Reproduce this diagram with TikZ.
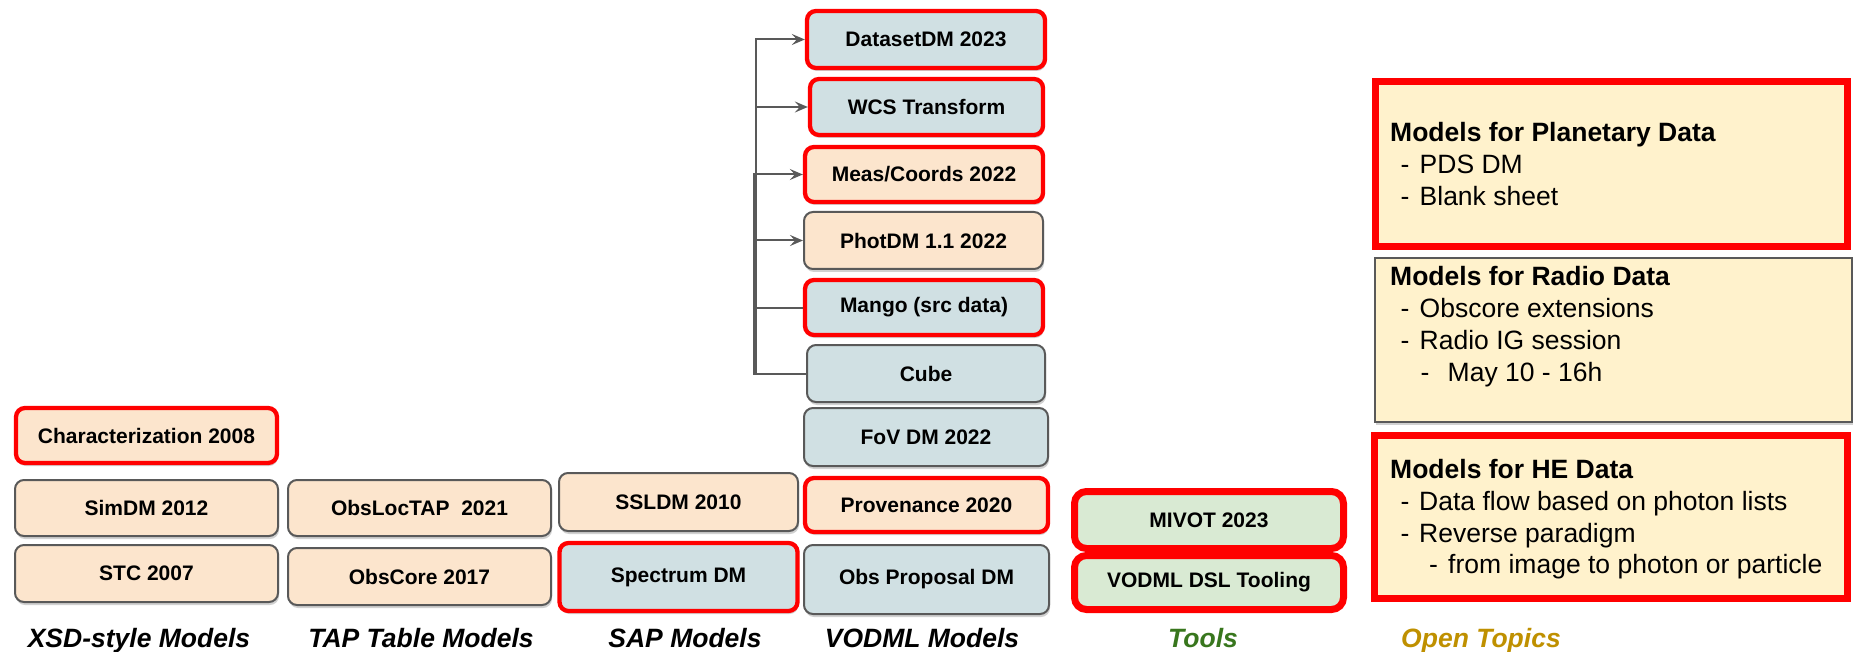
\documentclass[tikz,border=0pt]{standalone}
\usepackage{fontspec}
\setmainfont{Liberation Sans}
\usetikzlibrary{arrows.meta,shadows}
\definecolor{peach}{HTML}{FCE5CD}
\definecolor{bgray}{HTML}{D0E0E3}
\definecolor{lgreen}{HTML}{D9EAD3}
\definecolor{lyellow}{HTML}{FFF2CC}
\definecolor{bred}{HTML}{FF0000}
\definecolor{edgegray}{HTML}{595959}
\definecolor{toolgreen}{HTML}{38761D}
\definecolor{gold}{HTML}{BF9000}
\tikzset{
  dmbox/.style={rounded corners=9pt, inner sep=0pt,
    font=\fontsize{21}{25}\selectfont\bfseries,
    drop shadow={shadow xshift=1pt, shadow yshift=-3pt, opacity=0.18, fill=black}},
  grayedge/.style={dmbox, draw=edgegray, line width=2pt},
  rededge/.style={dmbox, draw=bred, line width=4.3pt},
  thickred/.style={dmbox, draw=bred, line width=7pt, rounded corners=12pt},
  topicred/.style={inner sep=0pt, fill=lyellow, draw=bred, line width=6.7pt,
    drop shadow={shadow xshift=1pt, shadow yshift=-3pt, opacity=0.18, fill=black}},
  topicgray/.style={inner sep=0pt, fill=lyellow, draw=edgegray, line width=2pt,
    drop shadow={shadow xshift=1pt, shadow yshift=-3pt, opacity=0.18, fill=black}},
  tline/.style={inner sep=0pt, anchor=base west, font=\fontsize{26.5}{32}\selectfont},
  collabel/.style={inner sep=0pt, anchor=base, font=\fontsize{26.5}{30}\selectfont\bfseries\itshape},
  conn/.style={draw=edgegray, line width=2pt},
  tip/.style={-{Stealth[length=13pt,width=11pt,inset=5pt]}}
}
\newcommand{\hy}[1]{\makebox[#1][l]{-}}
\begin{document}
\begin{tikzpicture}[x=1pt,y=-1pt]
\useasboundingbox (0,0) rectangle (1854,652);

% XSD-style column
\node[rededge, fill=peach, minimum width=261pt, minimum height=55pt] (char) at (146.5,435.5) {Characterization 2008};
\node[grayedge, fill=peach, minimum width=263pt, minimum height=56pt] (simdm) at (146.5,508) {SimDM 2012};
\node[grayedge, fill=peach, minimum width=263pt, minimum height=57pt] (stc) at (146.5,573.5) {STC 2007};

% TAP column
\node[grayedge, fill=peach, minimum width=263pt, minimum height=56pt] (obsloc) at (419.5,508) {ObsLocTAP\ \ 2021};
\node[grayedge, fill=peach, minimum width=263pt, minimum height=57pt] (obscore) at (419.5,576.5) {ObsCore 2017};

% SAP column
\node[grayedge, fill=peach, minimum width=239pt, minimum height=58pt] (ssldm) at (678.5,502) {SSLDM 2010};
\node[rededge, fill=bgray, minimum width=238pt, minimum height=68pt] (spec) at (678.5,577) {Spectrum DM};

% VODML column
\node[rededge, fill=bgray, minimum width=238pt, minimum height=57pt] (ds) at (926,39.5) {DatasetDM 2023};
\node[rededge, fill=bgray, minimum width=233pt, minimum height=56pt] (wcs) at (926.5,107) {WCS Transform};
\node[rededge, fill=peach, minimum width=238pt, minimum height=55pt] (meas) at (924,174.5) {Meas/Coords 2022};
\node[grayedge, fill=peach, minimum width=239pt, minimum height=57pt] (phot) at (923.5,240.5) {PhotDM 1.1 2022};
\node[rededge, fill=bgray, minimum width=238pt, minimum height=55pt] (mango) at (924,307.5) {Mango (src data)};
\node[grayedge, fill=bgray, minimum width=238pt, minimum height=57pt] (cube) at (926,373.5) {Cube};
\node[grayedge, fill=bgray, minimum width=244pt, minimum height=58pt] (fov) at (926,437) {FoV DM 2022};
\node[rededge, fill=peach, minimum width=243pt, minimum height=54pt] (prov) at (926.5,505) {Provenance 2020};
\node[grayedge, fill=bgray, minimum width=245pt, minimum height=69pt] (obsprop) at (926.5,579.5) {Obs Proposal DM};

% connectors
\draw[conn, tip] (cube.west) -- ++(-50,0) |- (ds.west);
\draw[conn, tip] (cube.west) -- ++(-50,0) |- (wcs.west);
\draw[conn, tip] (cube.west) -- ++(-52.5,0) |- (meas.west);
\draw[conn, tip] (cube.west) -- ++(-52.5,0) |- (phot.west);
\draw[conn] (cube.west) -- ++(-52.5,0) |- (mango.west);

% Tools column
\node[thickred, fill=lgreen, minimum width=269pt, minimum height=57pt] (mivot) at (1209,520) {MIVOT 2023};
\node[thickred, fill=lgreen, minimum width=269pt, minimum height=54pt] (dsl) at (1209,582.5) {VODML DSL Tooling};

% Open topics
\node[topicred, minimum width=472pt, minimum height=165pt] (planet) at (1611.5,164) {};
\node[topicgray, minimum width=477pt, minimum height=164pt] (radio) at (1613.5,340) {};
\node[topicred, minimum width=473pt, minimum height=163pt] (he) at (1611,517) {};

\node[tline] (p0) at (1390,142) {\bfseries Models for Planetary Data};
\node[tline] (p1) at (1400.5,174) {\hy{19pt}PDS DM};
\node[tline] (p2) at (1400.5,206) {\hy{19pt}Blank sheet};

\node[tline] (r0) at (1390,285) {\bfseries Models for Radio Data};
\node[tline] (r1) at (1400.5,317) {\hy{19pt}Obscore extensions};
\node[tline] (r2) at (1400.5,349) {\hy{19pt}Radio IG session};
\node[tline] (r3) at (1420.5,381) {\hy{27pt}May 10 - 16h};

\node[tline] (h0) at (1390,478) {\bfseries Models for HE Data};
\node[tline] (h1) at (1400.5,510) {\hy{18.5pt}Data flow based on photon lists};
\node[tline] (h2) at (1400.5,542) {\hy{18.5pt}Reverse paradigm};
\node[tline] (h3) at (1428.8,573) {\hy{19.2pt}from image to photon or particle};

% column labels
\node[collabel] (l1) at (139,647) {XSD-style Models};
\node[collabel] (l2) at (421,647) {TAP Table Models};
\node[collabel] (l3) at (685,647) {SAP Models};
\node[collabel] (l4) at (922,647) {VODML Models};
\node[collabel, text=toolgreen] (l5) at (1203,647) {Tools};
\node[collabel, text=gold, anchor=base west] (l6) at (1401,647) {Open Topics};
\end{tikzpicture}
\end{document}
